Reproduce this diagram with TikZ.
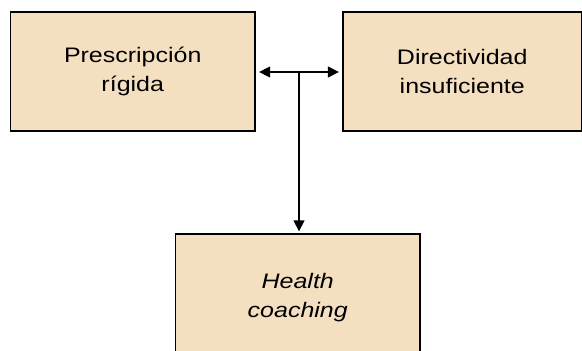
\documentclass[tikz,border=0pt]{standalone}
\usepackage{fontspec}
\setmainfont[FakeStretch=1.19]{Liberation Sans}
\usetikzlibrary{arrows.meta}
\definecolor{boxfill}{HTML}{F4E0C1}
\tikzset{
  box/.style={draw=black, line width=1.3pt, fill=boxfill, align=center,
    font=\fontsize{21}{29}\selectfont, inner sep=0pt},
  conn/.style={line width=1.4pt, -{Triangle[length=11pt,width=11pt]}},
}
\begin{document}
\begin{tikzpicture}[x=1pt,y=-1pt]
\useasboundingbox (0,0) rectangle (582,351);
\node[box, minimum width=244.5pt, minimum height=119pt] (pr) at (132.75,71.5) {Prescripción\\rígida};
\node[box, minimum width=238.5pt, minimum height=119pt] (di) at (462.25,71.5) {Directividad\\insuficiente};
\node[box, minimum width=244.5pt, minimum height=127pt] (hc) at (297.75,297.5) {\itshape Health\\\itshape coaching};
\coordinate (mid) at (299,72);
\draw[conn, {Triangle[length=11pt,width=11pt]}-{Triangle[length=11pt,width=11pt]}, shorten <=3.5pt, shorten >=3.5pt] (pr.east |- mid) -- (di.west |- mid);
\draw[conn, shorten >=2pt] (mid) -- (mid |- hc.north);
\end{tikzpicture}
\end{document}
